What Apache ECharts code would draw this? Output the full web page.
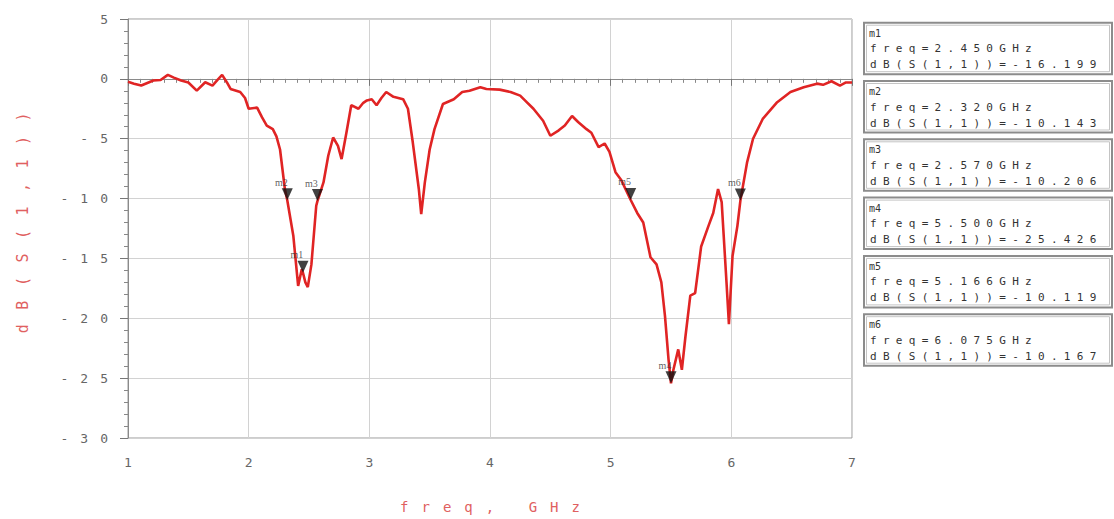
<!DOCTYPE html>
<html>
<head>
<meta charset="utf-8">
<script src="https://cdn.jsdelivr.net/npm/echarts@6/dist/echarts.min.js"></script>
<style>
  html, body { margin: 0; padding: 0; background: #fff; }
  #chart { width: 1114px; height: 519px; }
  #chart text[style*="11px"] { letter-spacing: 6.3px; }
  #chart text[style*="13px"] { letter-spacing: 12px; }
  #chart text[style*="14px"] { letter-spacing: 13px; }
  #chart text[style*="15px"] { letter-spacing: 14.5px; }
</style>
</head>
<body>
<div id="chart"></div>
<script>
// Measured S11 curve (frequency in GHz, magnitude in dB)
const freqGHz = [1.00,1.05,1.11,1.16,1.21,1.27,1.33,1.38,1.44,1.50,1.57,1.64,1.70,1.74,1.78,1.82,1.85,1.93,1.97,2.00,
  2.07,2.11,2.15,2.20,2.23,2.26,2.30,2.32,2.37,2.41,2.44,2.45,2.47,2.49,2.52,2.56,2.57,2.62,2.66,2.70,
  2.74,2.77,2.81,2.85,2.91,2.95,2.98,3.02,3.06,3.10,3.14,3.20,3.28,3.32,3.36,3.41,3.43,3.46,3.50,3.54,
  3.61,3.70,3.77,3.83,3.92,3.97,4.08,4.17,4.25,4.30,4.36,4.44,4.50,4.57,4.62,4.68,4.73,4.80,4.84,4.90,
  4.95,4.99,5.04,5.09,5.166,5.22,5.27,5.33,5.38,5.42,5.45,5.48,5.50,5.52,5.56,5.59,5.62,5.66,5.70,5.75,
  5.81,5.85,5.89,5.92,5.96,5.98,6.01,6.05,6.075,6.13,6.18,6.26,6.38,6.49,6.60,6.71,6.76,6.83,6.90,6.95,7.00];
const s11dB = [-0.25,-0.4,-0.56,-0.35,-0.14,-0.1,0.33,0.1,-0.14,-0.3,-0.98,-0.28,-0.56,-0.1,0.33,-0.3,-0.84,-1.1,-1.6,-2.5,
  -2.4,-3.2,-3.9,-4.2,-4.8,-5.9,-9.2,-10.14,-13.1,-17.3,-15.9,-16.2,-17.0,-17.4,-15.5,-10.6,-10.21,-8.65,-6.4,-4.9,
  -5.6,-6.7,-4.5,-2.2,-2.5,-2.0,-1.8,-1.7,-2.2,-1.6,-1.1,-1.5,-1.7,-2.5,-5.3,-9.2,-11.3,-8.65,-5.9,-4.2,
  -2.1,-1.7,-1.1,-1.0,-0.7,-0.85,-0.9,-1.1,-1.4,-1.9,-2.5,-3.5,-4.75,-4.3,-3.9,-3.1,-3.6,-4.2,-4.5,-5.7,
  -5.4,-6.1,-7.8,-8.5,-10.12,-11.2,-12.0,-14.9,-15.5,-17.0,-19.8,-23.5,-25.43,-24.3,-22.6,-24.3,-21.5,-18.1,-17.9,-14.0,
  -12.3,-11.2,-9.2,-10.3,-17.0,-20.5,-14.8,-12.3,-10.17,-7.0,-5.0,-3.35,-1.95,-1.1,-0.7,-0.4,-0.5,-0.2,-0.56,-0.3,-0.3];

// Markers
const markerNames = ['m1','m2','m3','m4','m5','m6'];
const markerFreq  = [2.450, 2.320, 2.570, 5.500, 5.166, 6.075];
const markerDb    = [-16.199, -10.143, -10.206, -25.426, -10.119, -10.167];

// Axes
const xTicks = [1,2,3,4,5,6,7];
const yTicks = [5,0,-5,-10,-15,-20,-25,-30];
const xAxisName = 'freq, GHz';
const yAxisName = 'dB(S(1,1))';

const curve = freqGHz.map((f, i) => [f, s11dB[i]]);
const markers = markerNames.map((n, i) => ({ name: n, value: [markerFreq[i], markerDb[i]] }));

const mono = 'DejaVu Sans Mono';
const graphics = [];
const boxTop0 = 22.7, boxPitch = 58.3, boxH = 51.5, boxL = 864, boxW = 248;
markerNames.forEach((n, i) => {
  const top = boxTop0 + i * boxPitch;
  graphics.push({ type: 'rect', silent: true, shape: { x: boxL, y: top, width: boxW, height: boxH },
    style: { fill: '#fff', stroke: '#8c8c8c', lineWidth: 2 } });
  graphics.push({ type: 'rect', silent: true, shape: { x: boxL + 2.5, y: top + 2.5, width: boxW - 5, height: boxH - 5 },
    style: { fill: null, stroke: '#c4c4c4', lineWidth: 1 } });
  graphics.push({ type: 'text', silent: true, style: { text: n, x: boxL + 5, y: top + 10.5,
    fontSize: 10, fontFamily: mono, fill: '#333', align: 'left', verticalAlign: 'middle' } });
  graphics.push({ type: 'text', silent: true, style: { text: 'freq=' + markerFreq[i].toFixed(3) + 'GHz', x: boxL + 6, y: top + 26,
    fontSize: 11, fontFamily: mono, fill: '#333', align: 'left', verticalAlign: 'middle' } });
  graphics.push({ type: 'text', silent: true, style: { text: 'dB(S(1,1))=' + markerDb[i].toFixed(3), x: boxL + 6, y: top + 42,
    fontSize: 11, fontFamily: mono, fill: '#333', align: 'left', verticalAlign: 'middle' } });
});

const chart = echarts.init(document.getElementById('chart'), null, { renderer: 'svg' });
chart.setOption({
  animation: false,
  backgroundColor: '#fff',
  grid: { left: 128, right: 262, top: 19, bottom: 81, show: true, borderColor: '#9a9a9a', borderWidth: 1 },
  xAxis: {
    type: 'value', min: xTicks[0], max: xTicks[xTicks.length - 1], interval: 1,
    name: xAxisName, nameLocation: 'middle', nameGap: 62,
    nameTextStyle: { color: '#e06060', fontSize: 14, fontFamily: mono, padding: [0, 0, 0, 13] },
    axisLine: { show: true, lineStyle: { color: '#8a8a8a' } },
    axisTick: { show: true, length: 7, lineStyle: { color: '#777' } },
    minorTick: { show: true, splitNumber: 10, length: 4, lineStyle: { color: '#888' } },
    splitLine: { show: true, lineStyle: { color: '#d2d2d2' } },
    axisLabel: { color: '#666', fontSize: 13, fontFamily: mono, margin: 18, hideOverlap: false, padding: [0, 0, 0, 12] }
  },
  yAxis: {
    type: 'value', min: yTicks[yTicks.length - 1], max: yTicks[0], interval: 5,
    name: yAxisName, nameLocation: 'middle', nameGap: 98, nameRotate: 90,
    nameTextStyle: { color: '#e06060', fontSize: 15, fontFamily: mono, padding: [0, 0, 0, 26] },
    axisLine: { show: true, lineStyle: { color: '#8a8a8a' } },
    axisTick: { show: true, length: 8, lineStyle: { color: '#777' } },
    minorTick: { show: true, splitNumber: 5, length: 4, lineStyle: { color: '#888' } },
    splitLine: { show: true, lineStyle: { color: '#d2d2d2' } },
    axisLabel: { color: '#666', fontSize: 13, fontFamily: mono, margin: 8, hideOverlap: false }
  },
  series: [
    { type: 'line', data: curve, showSymbol: false, smooth: false,
      lineStyle: { color: '#e02424', width: 2.6 }, z: 2 },
    { type: 'scatter', data: markers, symbol: 'triangle', symbolRotate: 180, symbolSize: [11, 12],
      symbolOffset: [0, -6], itemStyle: { color: '#111' }, z: 5,
      label: { show: true, position: 'top', distance: 1, offset: [-6, 0], formatter: '{b}',
        color: '#333', fontSize: 10, fontFamily: 'Liberation Serif' } }
  ],
  graphic: graphics
});
</script>
</body>
</html>
